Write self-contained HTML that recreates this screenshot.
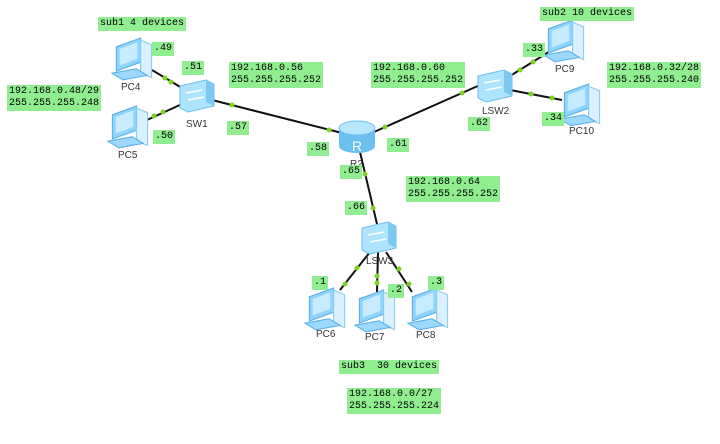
<!DOCTYPE html>
<html><head><meta charset="utf-8"><style>
html,body{margin:0;padding:0;background:#fff;width:720px;height:444px;overflow:hidden}
.l{position:absolute;background:#90ee90;font-family:"Liberation Mono",monospace;font-size:10px;line-height:12px;padding:1px 2px;color:#000;white-space:pre}
.n{position:absolute;font-family:"Liberation Sans",sans-serif;font-size:10px;color:#333}
svg{position:absolute;left:0;top:0}
</style></head><body>
<svg width="720" height="444">
<defs>
<g id="pc" transform="scale(1.1)">
<polygon points="4,8 26,0 26,22 4,30" fill="#8fd3ff" stroke="#5ab0e8"/>
<polygon points="7,10 23,4 23,19 7,25" fill="#c8ecff"/>
<polygon points="26,2 36,6 36,36 26,32" fill="#d8f0ff" stroke="#8ccdf0"/>
<polygon points="0,32 22,28 32,34 10,38" fill="#9cd8ff" stroke="#5ab0e8"/>
</g>
<g id="sw">
<polygon points="0,6 26,0 34,4 34,26 8,32 0,28" fill="#aee4ff" stroke="#6bbde8"/>
<polygon points="26,0 34,4 34,26 26,22" fill="#7cc8f0"/>
<path d="M6,13 L22,10 M8,20 L24,17" stroke="#fff" stroke-width="1.5"/>
</g>
</defs>
<g stroke="#111" stroke-width="2">
<line x1="152" y1="70" x2="182" y2="88"/>
<line x1="147" y1="120" x2="182" y2="104"/>
<line x1="212" y1="100" x2="342" y2="133"/>
<line x1="374" y1="132" x2="480" y2="85"/>
<line x1="510" y1="76" x2="552" y2="50"/>
<line x1="510" y1="90" x2="562" y2="100"/>
<line x1="360" y1="152" x2="377" y2="224"/>
<line x1="370" y1="252" x2="340" y2="290"/>
<line x1="378" y1="252" x2="377" y2="292"/>
<line x1="386" y1="252" x2="412" y2="292"/>
</g>
<g fill="#7ed321">
<circle cx="165" cy="78" r="2.5"/><circle cx="171" cy="82" r="2.5"/>
<circle cx="154" cy="116" r="2.5"/><circle cx="163" cy="112" r="2.5"/>
<circle cx="232" cy="105" r="2.5"/><circle cx="329" cy="130" r="2.5"/>
<circle cx="385" cy="127" r="2.5"/><circle cx="462" cy="93" r="2.5"/>
<circle cx="520" cy="70" r="2.5"/><circle cx="533" cy="62" r="2.5"/>
<circle cx="531" cy="94" r="2.5"/><circle cx="552" cy="98" r="2.5"/>
<circle cx="365" cy="174" r="2.5"/><circle cx="373" cy="208" r="2.5"/>
<circle cx="357" cy="268" r="2.5"/><circle cx="345" cy="284" r="2.5"/>
<circle cx="377" cy="276" r="2.5"/><circle cx="377" cy="283" r="2.5"/>
<circle cx="399" cy="269" r="2.5"/><circle cx="409" cy="284" r="2.5"/>
</g>
<use href="#pc" x="112" y="38"/>
<use href="#pc" x="108" y="106"/>
<use href="#pc" x="544" y="20"/>
<use href="#pc" x="560" y="84"/>
<use href="#pc" x="305" y="288"/>
<use href="#pc" x="355" y="290"/>
<use href="#pc" x="408" y="288"/>
<use href="#sw" x="180" y="80"/>
<use href="#sw" x="478" y="70"/>
<use href="#sw" x="362" y="222"/>
<g>
<path d="M339,128 L339,146 A18,7 0 0 0 375,146 L375,128 Z" fill="#6cc0f0"/>
<ellipse cx="357" cy="128" rx="18" ry="7" fill="#b8e6ff" stroke="#6cc0f0"/>
<text x="357" y="151" font-family="Liberation Sans" font-size="14" fill="#fff" text-anchor="middle">R</text>
</g>
</svg>
<div class="n" style="left:121px;top:82px">PC4</div>
<div class="n" style="left:118px;top:150px">PC5</div>
<div class="n" style="left:186px;top:119px">SW1</div>
<div class="n" style="left:350px;top:159px">R2</div>
<div class="n" style="left:482px;top:106px">LSW2</div>
<div class="n" style="left:555px;top:64px">PC9</div>
<div class="n" style="left:569px;top:126px">PC10</div>
<div class="n" style="left:366px;top:256px">LSW3</div>
<div class="n" style="left:316px;top:329px">PC6</div>
<div class="n" style="left:365px;top:332px">PC7</div>
<div class="n" style="left:416px;top:330px">PC8</div>

<div class="l" style="left:98px;top:17px">sub1 4 devices</div>
<div class="l" style="left:152px;top:42px">.49</div>
<div class="l" style="left:182px;top:61px">.51</div>
<div class="l" style="left:229px;top:62px">192.168.0.56
255.255.255.252</div>
<div class="l" style="left:7px;top:85px">192.168.0.48/29
255.255.255.248</div>
<div class="l" style="left:153px;top:130px">.50</div>
<div class="l" style="left:227px;top:121px">.57</div>
<div class="l" style="left:307px;top:142px">.58</div>
<div class="l" style="left:340px;top:165px">.65</div>
<div class="l" style="left:371px;top:62px">192.168.0.60
255.255.255.252</div>
<div class="l" style="left:540px;top:7px">sub2 10 devices</div>
<div class="l" style="left:523px;top:43px">.33</div>
<div class="l" style="left:607px;top:62px">192.168.0.32/28
255.255.255.240</div>
<div class="l" style="left:468px;top:117px">.62</div>
<div class="l" style="left:542px;top:112px">.34</div>
<div class="l" style="left:387px;top:138px">.61</div>
<div class="l" style="left:406px;top:176px">192.168.0.64
255.255.255.252</div>
<div class="l" style="left:345px;top:201px">.66</div>
<div class="l" style="left:312px;top:276px">.1</div>
<div class="l" style="left:388px;top:284px">.2</div>
<div class="l" style="left:428px;top:276px">.3</div>
<div class="l" style="left:339px;top:360px">sub3  30 devices</div>
<div class="l" style="left:347px;top:388px">192.168.0.0/27
255.255.255.224</div>
</body></html>
